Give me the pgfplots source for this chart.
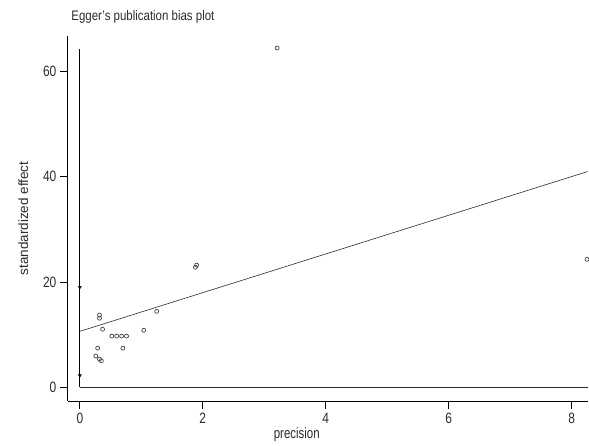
\documentclass[border=0pt]{standalone}
\usepackage{fontspec}
\setmainfont{Liberation Sans}
\usepackage{pgfplots}
\pgfplotsset{compat=1.18}
\definecolor{cInk}{HTML}{2B2B2B}
\definecolor{cPt}{HTML}{404040}

\begin{document}
\begin{tikzpicture}
\begin{axis}[
  name=ax,
  scale only axis,
  width=521pt, height=366pt,
  xmin=-0.195, xmax=8.26, ymin=-2.66, ymax=66.8,
  axis lines=left,
  axis line style={-, line width=1pt, black},
  xtick={0,2,4,6,8}, ytick={0,20,40,60},
  tick align=outside, major tick length=8pt,
  tick style={line width=0.8pt, black},
  /pgf/number format/assume math mode=true,
  tick label style={font=\fontsize{12}{12}\selectfont, text=cInk, yscale=1.25},
  xlabel={precision}, ylabel={standardized effect},
  xlabel style={font=\fontsize{11.5}{11.5}\selectfont, text=cInk, yscale=1.3, yshift=4pt, xshift=-31pt},
  ylabel style={font=\fontsize{13.5}{13.5}\selectfont, text=cInk, yshift=8pt},
  title={Egger's publication bias plot},
  title style={at={(rel axis cs:0,1)}, anchor=south west, yshift=2pt,
    font=\fontsize{11.5}{11.5}\selectfont, text=cInk, yscale=1.2},
  clip=false,
]
% inner frame at x=0 and y=0
\addplot[black, line width=1.1pt] coordinates {(0,0)(0,64.3)};
\addplot[cInk, line width=0.8pt] coordinates {(0,0)(8.26,0)};
% confidence interval marks of the intercept
\addplot[only marks, mark=triangle*, mark size=1.8pt, mark options={rotate=180, fill=black}, black]
  coordinates {(0,2.2)(0,19.0)};
% regression line
\addplot[cInk, line width=0.6pt] coordinates {(0,10.6)(8.26,41.0)};
% studies
\addplot[only marks, mark=o, mark size=2pt, cPt, mark options={line width=0.7pt}]
  coordinates {
    (3.21,64.5) (8.25,24.3) (1.90,23.2) (1.88,22.8) (1.25,14.4)
    (0.32,13.7) (0.32,13.1) (0.37,11.0) (1.04,10.8)
    (0.52,9.7) (0.60,9.7) (0.68,9.7) (0.76,9.7)
    (0.70,7.4) (0.29,7.4) (0.26,5.9) (0.32,5.3) (0.35,5.0)
  };
\end{axis}
\path ([shift={(-68pt,-37pt)}]ax.south west) rectangle ([shift={(0pt,36pt)}]ax.north east);
\end{tikzpicture}
\end{document}
